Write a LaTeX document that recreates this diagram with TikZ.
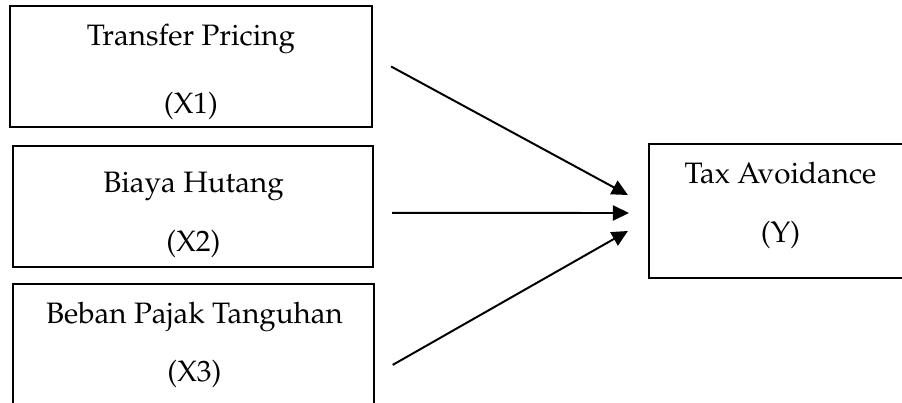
\documentclass[tikz,border=0pt]{standalone}
\usepackage[T1]{fontenc}
\usepackage{mathpazo}
\usetikzlibrary{arrows.meta}
\tikzset{varbox/.style={draw,line width=1.5pt,inner sep=0pt},
         vartext/.style={align=center,inner sep=0pt,font=\fontsize{21}{41.5}\selectfont},
         effect/.style={line width=1.4pt,-{Triangle[length=0.4cm,width=0.38cm]}}}

\begin{document}
\begin{tikzpicture}[x=0.025cm,y=-0.025cm]
\useasboundingbox (0,0) rectangle (902,402);
\clip (0,0) rectangle (902,402);

% boxes
\node[varbox,minimum width=9.05cm,minimum height=3.025cm] (x1) at (191,66.5) {};
\node[varbox,minimum width=9cm,minimum height=3.025cm] (x2) at (193,206.5) {};
\node[varbox,minimum width=9.025cm,minimum height=3.025cm] (x3) at (193.5,344.5) {};
\node[varbox,minimum width=6.575cm,minimum height=3.35cm] (y) at (780.5,211) {};

% texts
\node[vartext] (x1t) at (191,72) {Transfer Pricing\\[0.24cm](X1)};
\node[vartext] (x2t) at (193.5,215) {Biaya Hutang\\(X2)};
\node[vartext] (x3t) at (194.5,345) {Beban Pajak Tanguhan\\(X3)};
\node[vartext] (yt) at (780.5,205.5) {Tax Avoidance\\(Y)};

% arrows
\draw[effect] ([xshift=0.45cm]x1.east) -- ([xshift=-0.5cm,yshift=0.4cm]y.west);
\draw[effect] ([xshift=0.45cm,yshift=-0.16cm]x2.east) -- ([xshift=-0.475cm,yshift=-0.05cm]y.west);
\draw[effect] ([xshift=0.44cm,yshift=-0.51cm]x3.east) -- ([xshift=-0.5cm,yshift=-0.5cm]y.west);
%\draw[effect] (x2) -- (y);
\end{tikzpicture}
\end{document}
